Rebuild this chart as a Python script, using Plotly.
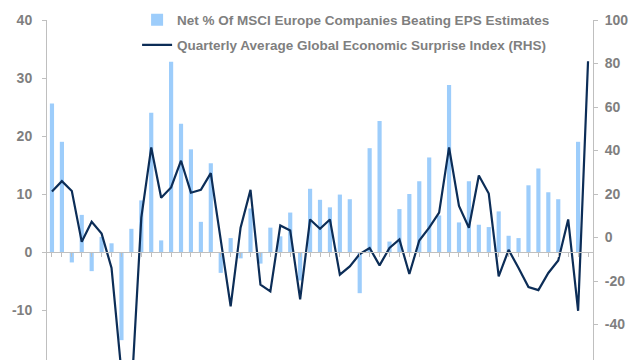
import plotly.graph_objects as go

# Quarter index (55 periods)
periods = list(range(55))

# Net % of MSCI Europe companies beating EPS estimates (LHS)
net_beat = [25.6, 19.0, -1.8, 6.4, -3.3, 2.6, 1.5, -15.2, 4.0, 8.9,
            24.0, 2.0, 32.8, 22.1, 17.7, 5.2, 15.3, -3.6, 2.4, -1.1,
            7.5, -2.0, 4.2, 2.7, 6.8, -4.9, 10.9, 9.0, 7.7, 9.9,
            9.1, -7.1, 17.9, 22.6, 1.8, 7.4, 10.0, 12.2, 16.3, 6.3,
            28.8, 5.1, 12.2, 4.7, 4.3, 7.0, 2.8, 2.4, 11.5, 14.4,
            10.3, 9.1, None, 19.0, None]

# Quarterly average global economic surprise index (RHS)
surprise = [21.1, 25.9, 21.4, -2.0, 7.2, 1.8, -14.0, -62.0, -72.0, 9.1,
            41.4, 18.3, 23.0, 35.3, 20.6, 21.9, 29.6, -1.0, -31.7, 4.5,
            21.9, -21.7, -24.8, 5.5, 3.2, -28.4, 8.3, 4.0, 8.3, -17.1,
            -13.3, -7.6, -4.8, -12.8, -4.8, -0.9, -16.8, -1.4, 4.5, 11.4,
            41.4, 14.5, 4.5, 28.5, 20.2, -17.9, -5.7, -14.0, -22.8, -24.2,
            -16.3, -10.6, 8.3, -33.7, 81.0]

left_ticks = [-10, 0, 10, 20, 30, 40]
left_labels = ["-10", "0", "10", "20", "30", "40"]
right_ticks = [-40, -20, 0, 20, 40, 60, 80, 100]
right_labels = ["-40", "-20", "0", "20", "40", "60", "80", "100"]
left_range = [-20, 40]
right_range = [-60, 100]

GRAY = "#7f7f7f"
AXIS = "#bfbfbf"
FONT = "Liberation Sans"

fig = go.Figure()
fig.add_trace(go.Bar(
    x=periods, y=net_beat,
    name="Net % Of MSCI Europe Companies Beating EPS Estimates",
    marker=dict(color="#9dcdfb", line=dict(width=0)),
    legend="legend",
))
fig.add_trace(go.Scatter(
    x=periods, y=surprise, yaxis="y2", mode="lines",
    name="Quarterly Average Global Economic Surprise Index (RHS)",
    line=dict(color="#0c2d57", width=2.2),
    legend="legend2",
))

zero_pos = -left_range[0] / (left_range[1] - left_range[0])

legend_font = dict(family=FONT, size=13.5, color=GRAY, weight="bold")

fig.update_layout(
    width=640, height=360,
    margin=dict(l=39, r=55, t=12, b=0, autoexpand=False),
    paper_bgcolor="white", plot_bgcolor="white",
    bargap=0.58,
    showlegend=True,
    legend=dict(x=0.165, y=0.967, xanchor="left", yanchor="middle",
                yref="container",
                bgcolor="rgba(0,0,0,0)", font=legend_font,
                itemwidth=30),
    legend2=dict(x=0.165, y=0.897, xanchor="left", yanchor="middle",
                 yref="container",
                 bgcolor="rgba(0,0,0,0)", font=legend_font,
                 itemwidth=30),
    xaxis=dict(
        range=[-0.5, 54.5], anchor="free", position=zero_pos,
        showline=True, linecolor=AXIS, linewidth=1,
        ticks="outside", ticklen=4, tickcolor=AXIS,
        tickmode="linear", dtick=1, tick0=0, tickson="boundaries",
        showticklabels=False, showgrid=False, zeroline=False,
    ),
    yaxis=dict(
        range=left_range, tickvals=left_ticks, ticktext=left_labels,
        showline=True, linecolor=AXIS, linewidth=1,
        ticks="outside", ticklen=4, tickcolor=AXIS,
        ticklabelstandoff=7,
        showgrid=False, zeroline=False,
        tickfont=dict(family=FONT, size=14, color=GRAY, weight="bold"),
    ),
    yaxis2=dict(
        range=right_range, tickvals=right_ticks, ticktext=right_labels,
        overlaying="y", side="right",
        showline=True, linecolor=AXIS, linewidth=1,
        ticks="outside", ticklen=4, tickcolor=AXIS,
        ticklabelstandoff=4,
        showgrid=False, zeroline=False,
        tickfont=dict(family=FONT, size=14, color=GRAY, weight="bold"),
    ),
)

fig.write_html("out.html")
